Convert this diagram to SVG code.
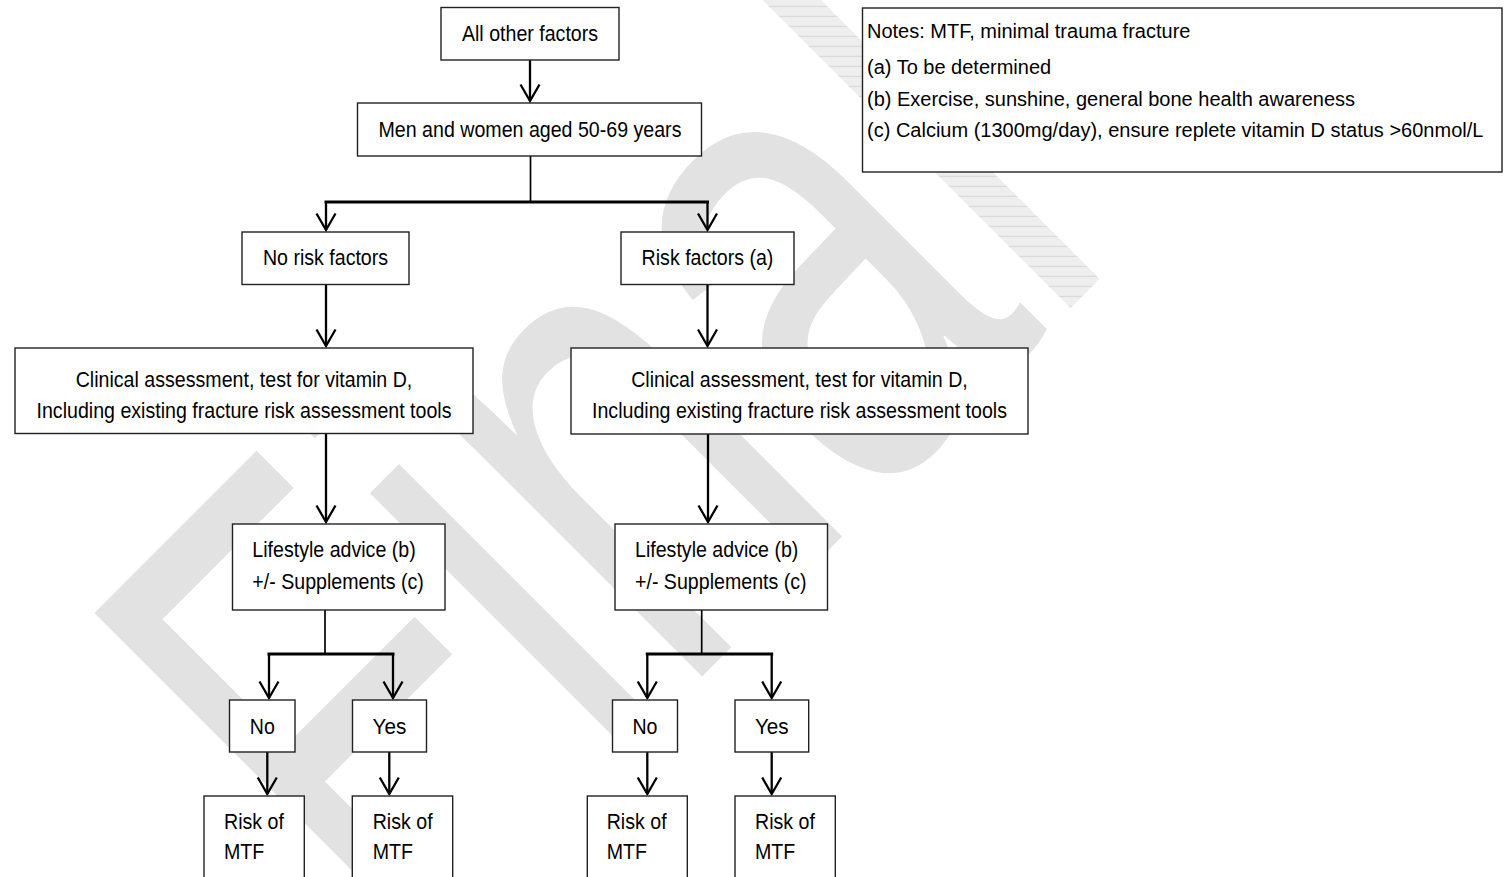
<svg xmlns="http://www.w3.org/2000/svg" width="1506" height="877" viewBox="0 0 1506 877">
<style>
.box{fill:#fff;stroke:#222;stroke-width:1.4}
.t{font-family:"Liberation Sans",Arial,sans-serif;font-size:22px;fill:#000}
.n{font-size:20px}
.c{text-anchor:middle}
.ln{fill:none;stroke:#000;stroke-width:2.3;stroke-linecap:square}
.thick{stroke-width:3}
.thin{stroke-width:1.7}
.arr{marker-end:url(#ah);stroke-linecap:butt}
.wm{font-family:"Liberation Sans",Arial,sans-serif;font-size:690px;fill:#e2e2e2}
</style>
<defs>
<marker id="ah" markerUnits="userSpaceOnUse" markerWidth="24" markerHeight="24" orient="auto" overflow="visible">
<path d="M-16.5,-9.5 L0,0 L-16.5,9.5" fill="none" stroke="#000" stroke-width="2.3"/>
</marker>
<pattern id="hatch" patternUnits="userSpaceOnUse" width="12" height="10" patternTransform="scale(1.4706,1) rotate(45)">
<rect width="12" height="10" fill="#eeeeee"/>
<line x1="0" y1="0.5" x2="12" y2="0.5" stroke="#d4d4d4" stroke-width="1"/>
</pattern>
</defs>
<rect width="1506" height="877" fill="#fff"/>
<g id="watermark" transform="translate(402.8,975.8) rotate(-45) scale(0.68,1)">
<text class="wm" x="0" y="0">Fina<tspan fill="url(#hatch)">l</tspan></text>
</g>
<g id="connectors">
<path class="ln arr" d="M530,60 V101"/>
<path class="ln thin" d="M530.5,156 V202"/>
<path class="ln thick" d="M326,202 H707.5"/>
<path class="ln arr" d="M326,202 V230"/>
<path class="ln arr" d="M707.5,202 V230"/>
<path class="ln arr" d="M326,284.5 V346"/>
<path class="ln arr" d="M707.5,284.5 V346"/>
<path class="ln arr" d="M326,433.5 V522"/>
<path class="ln arr" d="M708,434 V522"/>
<path class="ln thin" d="M325,610 V654"/>
<path class="ln thick" d="M269,654 H393"/>
<path class="ln arr" d="M269,654 V698"/>
<path class="ln arr" d="M393,654 V698"/>
<path class="ln thin" d="M701.7,610 V654"/>
<path class="ln thick" d="M647.3,654 H771.7"/>
<path class="ln arr" d="M647.3,654 V698"/>
<path class="ln arr" d="M771.7,654 V698"/>
<path class="ln arr" d="M267.3,752 V794"/>
<path class="ln arr" d="M389.3,752 V794"/>
<path class="ln arr" d="M647.3,752 V794"/>
<path class="ln arr" d="M771.7,752 V794"/>
</g>
<g id="n-all">
<rect class="box" x="441" y="7.5" width="178" height="52.5"/>
<text class="t c" x="530" y="41" textLength="136.2" lengthAdjust="spacingAndGlyphs">All other factors</text>
</g>
<g id="n-men">
<rect class="box" x="357.5" y="103" width="344" height="53"/>
<text class="t c" x="530" y="137" textLength="302.9" lengthAdjust="spacingAndGlyphs">Men and women aged 50-69 years</text>
</g>
<g id="n-norisk">
<rect class="box" x="242" y="232" width="167" height="52.5"/>
<text class="t c" x="325.5" y="265" textLength="125.2" lengthAdjust="spacingAndGlyphs">No risk factors</text>
</g>
<g id="n-risk">
<rect class="box" x="621" y="232" width="173" height="52.5"/>
<text class="t c" x="707.5" y="265" textLength="131.8" lengthAdjust="spacingAndGlyphs">Risk factors (a)</text>
</g>
<g id="n-clin-left">
<rect class="box" x="15" y="348" width="458" height="85.5"/>
<text class="t c" x="244" y="387" textLength="336.6" lengthAdjust="spacingAndGlyphs">Clinical assessment, test for vitamin D,</text>
<text class="t c" x="244" y="418" textLength="415" lengthAdjust="spacingAndGlyphs">Including existing fracture risk assessment tools</text>
</g>
<g id="n-clin-right">
<rect class="box" x="571" y="348" width="457" height="86"/>
<text class="t c" x="799.5" y="387" textLength="336.6" lengthAdjust="spacingAndGlyphs">Clinical assessment, test for vitamin D,</text>
<text class="t c" x="799.5" y="418" textLength="415" lengthAdjust="spacingAndGlyphs">Including existing fracture risk assessment tools</text>
</g>
<g id="n-life-left">
<rect class="box" x="232.5" y="524" width="212.5" height="86"/>
<text class="t" x="252.3" y="557" textLength="163.4" lengthAdjust="spacingAndGlyphs">Lifestyle advice (b)</text>
<text class="t" x="252.3" y="589" textLength="171.6" lengthAdjust="spacingAndGlyphs">+/- Supplements (c)</text>
</g>
<g id="n-life-right">
<rect class="box" x="615" y="524" width="212.5" height="86"/>
<text class="t" x="635" y="557" textLength="163.4" lengthAdjust="spacingAndGlyphs">Lifestyle advice (b)</text>
<text class="t" x="635" y="589" textLength="171.6" lengthAdjust="spacingAndGlyphs">+/- Supplements (c)</text>
</g>
<g id="n-no-left">
<rect class="box" x="229.5" y="700" width="65.5" height="52"/>
<text class="t c" x="262.3" y="734" textLength="25" lengthAdjust="spacingAndGlyphs">No</text>
</g>
<g id="n-yes-left">
<rect class="box" x="352.5" y="700" width="74" height="52"/>
<text class="t c" x="389.5" y="734" textLength="33.8" lengthAdjust="spacingAndGlyphs">Yes</text>
</g>
<g id="n-no-right">
<rect class="box" x="612.5" y="700" width="65" height="52"/>
<text class="t c" x="645" y="734" textLength="25" lengthAdjust="spacingAndGlyphs">No</text>
</g>
<g id="n-yes-right">
<rect class="box" x="735" y="700" width="73.7" height="52"/>
<text class="t c" x="771.8" y="734" textLength="33.8" lengthAdjust="spacingAndGlyphs">Yes</text>
</g>
<g id="n-mtf-1">
<rect class="box" x="204" y="796" width="100.3" height="95"/>
<text class="t" x="224" y="829" textLength="59.9" lengthAdjust="spacingAndGlyphs">Risk of</text>
<text class="t" x="224" y="859" textLength="40.3" lengthAdjust="spacingAndGlyphs">MTF</text>
</g>
<g id="n-mtf-2">
<rect class="box" x="352.3" y="796" width="100.4" height="95"/>
<text class="t" x="372.7" y="829" textLength="59.9" lengthAdjust="spacingAndGlyphs">Risk of</text>
<text class="t" x="372.7" y="859" textLength="40.3" lengthAdjust="spacingAndGlyphs">MTF</text>
</g>
<g id="n-mtf-3">
<rect class="box" x="587.3" y="796" width="100" height="95"/>
<text class="t" x="606.7" y="829" textLength="59.9" lengthAdjust="spacingAndGlyphs">Risk of</text>
<text class="t" x="606.7" y="859" textLength="40.3" lengthAdjust="spacingAndGlyphs">MTF</text>
</g>
<g id="n-mtf-4">
<rect class="box" x="735" y="796" width="100.3" height="95"/>
<text class="t" x="755" y="829" textLength="59.9" lengthAdjust="spacingAndGlyphs">Risk of</text>
<text class="t" x="755" y="859" textLength="40.3" lengthAdjust="spacingAndGlyphs">MTF</text>
</g>
<g id="notes">
<rect class="box" x="862.5" y="8" width="639.5" height="164"/>
<text class="t n" x="867" y="38">Notes: MTF, minimal trauma fracture</text>
<text class="t n" x="867" y="74">(a) To be determined</text>
<text class="t n" x="867" y="106">(b) Exercise, sunshine, general bone health awareness</text>
<text class="t n" x="867" y="137">(c) Calcium (1300mg/day), ensure replete vitamin D status &gt;60nmol/L</text>
</g>
</svg>
